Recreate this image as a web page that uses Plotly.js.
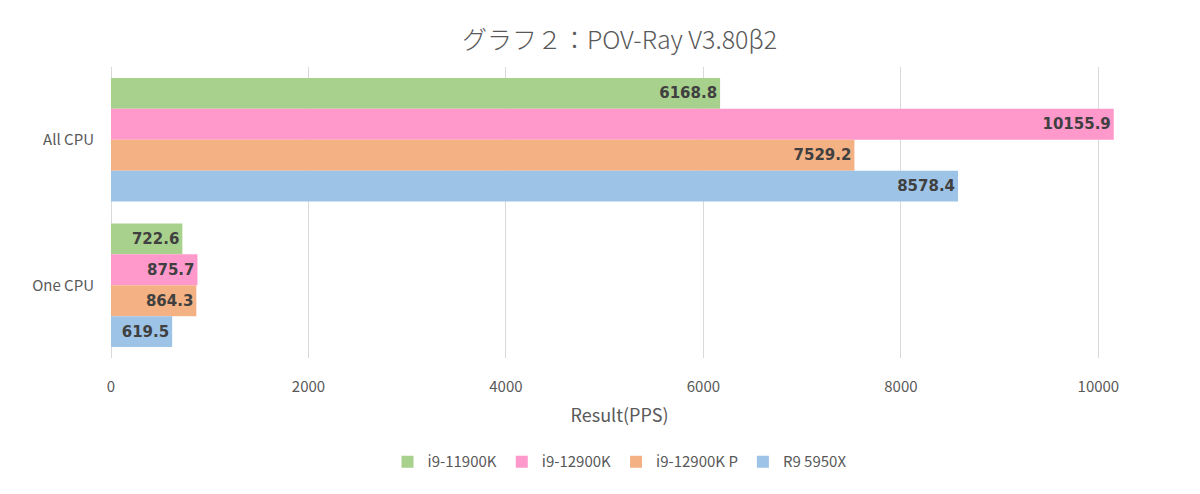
<!DOCTYPE html>
<html>
<head>
<meta charset="utf-8">
<script src="https://cdn.plot.ly/plotly-3.0.1.min.js"></script>
<style>
  body { margin: 0; background: #fff; }
  #chart { width: 1200px; height: 494px; outline: 2px solid #d9d9d9; outline-offset: -2px; }
</style>
</head>
<body>
<div id="chart"></div>
<script>
// categories and series
var categories = ['All CPU', 'One CPU'];
var seriesNames = ['i9-11900K', 'i9-12900K', 'i9-12900K P', 'R9 5950X'];
var i9_11900K = [6168.8, 722.6];
var i9_12900K = [10155.9, 875.7];
var i9_12900KP = [7529.2, 864.3];
var r9_5950X = [8578.4, 619.5];
var xTicks = [0, 2000, 4000, 6000, 8000, 10000];
var colors = ['#a9d18e', '#ff99cc', '#f4b183', '#9dc3e6'];

var font = '"Noto Sans CJK JP", "Noto Sans", sans-serif';
var labelFont = '"DejaVu Sans", Verdana, sans-serif';
var allValues = [i9_11900K, i9_12900K, i9_12900KP, r9_5950X];

var data = allValues.map(function (vals, i) {
  return {
    type: 'bar',
    orientation: 'h',
    name: seriesNames[i],
    y: categories,
    x: vals,
    marker: { color: colors[i] },
    text: vals.map(function (v) { return v.toFixed(1); }),
    textposition: 'inside',
    insidetextanchor: 'end',
    textangle: 0,
    constraintext: 'none',
    textfont: { family: labelFont, size: 15, color: '#404040', weight: 'bold' },
    hoverinfo: 'x+name'
  };
});

var layout = {
  width: 1200,
  height: 494,
  margin: { l: 111, r: 72, t: 67, b: 136 },
  paper_bgcolor: '#fff',
  plot_bgcolor: '#fff',
  barmode: 'group',
  bargap: 0.15,
  bargroupgap: 0,
  font: { family: font, color: '#595959' },
  title: {
    text: 'グラフ２：POV-Ray V3.80β2',
    font: { family: font, size: 25, color: '#595959', weight: 300 },
    x: 0.5, xref: 'paper', y: 0.919, yref: 'container', yanchor: 'middle'
  },
  xaxis: {
    range: [0, 10300],
    tickvals: xTicks,
    ticktext: xTicks.map(String),
    showgrid: true,
    gridcolor: '#d9d9d9',
    zeroline: true,
    zerolinecolor: '#d9d9d9',
    showline: false,
    ticks: '',
    ticklabelstandoff: 18,
    tickfont: { family: font, size: 15, color: '#595959' },
    title: { text: 'Result(PPS)', font: { family: font, size: 18, color: '#595959' }, standoff: 14 },
    automargin: false,
    fixedrange: true
  },
  yaxis: {
    type: 'category',
    autorange: 'reversed',
    showgrid: false,
    zeroline: false,
    showline: false,
    ticks: '',
    ticklabelstandoff: 16,
    tickfont: { family: font, size: 15, color: '#595959' },
    automargin: false,
    fixedrange: true
  },
  legend: {
    orientation: 'h',
    x: 0.5, xanchor: 'center',
    y: -0.357, yanchor: 'middle',
    font: { family: font, size: 15, color: '#595959' },
    itemwidth: 30,
    traceorder: 'normal'
  },
  showlegend: true
};

Plotly.newPlot('chart', data, layout, { displayModeBar: false, staticPlot: true });
</script>
</body>
</html>
